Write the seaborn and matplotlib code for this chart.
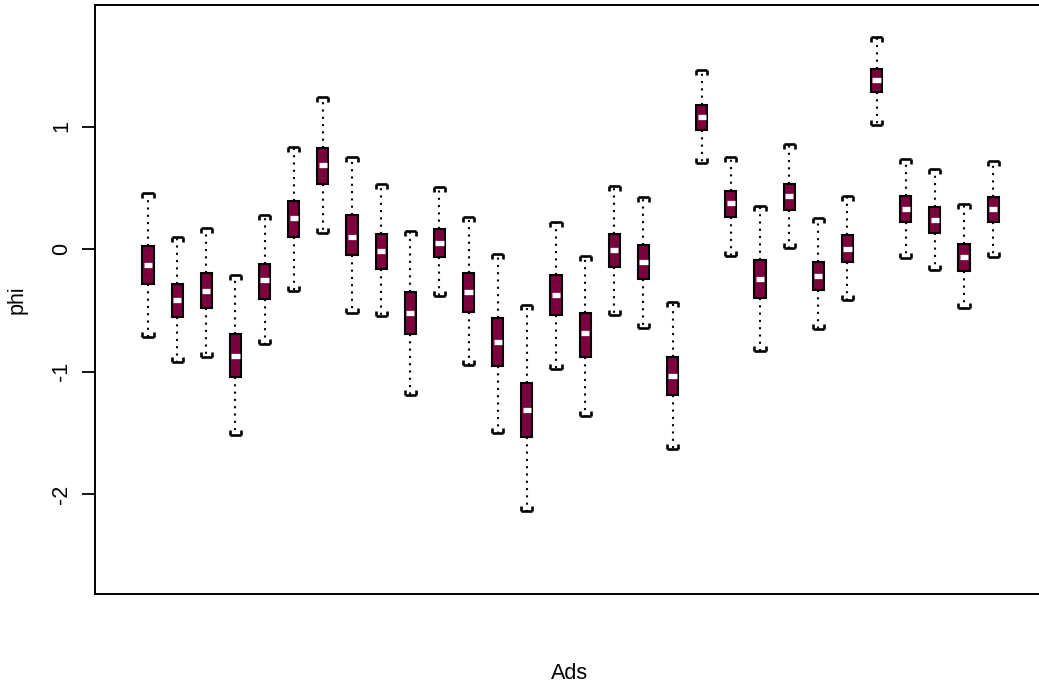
import matplotlib
matplotlib.use("Agg")
import matplotlib.pyplot as plt
import numpy as np
import pandas as pd
import seaborn as sns

# Five-number summaries of the posterior draws of phi for each ad
ads = [f"Ad{i}" for i in range(1, 31)]
lower = [-0.716, -0.920, -0.884, -1.518, -0.778, -0.340, 0.128, -0.525, -0.547, -1.190,
         -0.384, -0.947, -1.505, -2.139, -0.982, -1.363, -0.541, -0.642, -1.635, 0.699,
         -0.057, -0.830, 0.005, -0.656, -0.416, 1.012, -0.076, -0.171, -0.484, -0.068]
q1 = [-0.283, -0.558, -0.480, -1.047, -0.411, 0.095, 0.533, -0.052, -0.160, -0.697,
      -0.068, -0.514, -0.955, -1.532, -0.536, -0.884, -0.150, -0.242, -1.192, 0.971,
      0.259, -0.397, 0.316, -0.335, -0.106, 1.282, 0.220, 0.128, -0.177, 0.223]
median = [-0.130, -0.416, -0.340, -0.871, -0.253, 0.250, 0.688, 0.100, -0.016, -0.520,
          0.051, -0.351, -0.759, -1.314, -0.376, -0.688, -0.008, -0.104, -1.037, 1.075,
          0.373, -0.248, 0.433, -0.220, 0.003, 1.380, 0.327, 0.237, -0.068, 0.324]
q3 = [0.024, -0.283, -0.198, -0.697, -0.125, 0.394, 0.827, 0.275, 0.122, -0.351,
      0.166, -0.193, -0.566, -1.097, -0.215, -0.520, 0.122, 0.033, -0.884, 1.173,
      0.476, -0.090, 0.533, -0.106, 0.112, 1.467, 0.433, 0.340, 0.041, 0.427]
upper = [0.454, 0.100, 0.174, -0.212, 0.278, 0.835, 1.243, 0.754, 0.528, 0.150,
         0.509, 0.264, -0.041, -0.457, 0.218, -0.054, 0.514, 0.427, -0.430, 1.461,
         0.754, 0.354, 0.857, 0.250, 0.433, 1.733, 0.732, 0.653, 0.365, 0.721]

yticks = [-2, -1, 0, 1]

rows = []
for i, ad in enumerate(ads):
    for v in (lower[i], q1[i], median[i], q3[i], upper[i]):
        rows.append({"Ads": ad, "phi": v})
df = pd.DataFrame(rows)

sns.set_style("white")
plt.rcParams["font.family"] = ["Liberation Sans", "DejaVu Sans"]
plt.rcParams["axes.unicode_minus"] = False
plt.rcParams["text.color"] = "black"
plt.rcParams["axes.labelcolor"] = "black"
plt.rcParams["ytick.color"] = "black"

fig = plt.figure(figsize=(10.39, 6.86), dpi=100)
ax = fig.add_axes([95 / 1039, 1 - 594 / 686, (1045 - 95) / 1039, (594 - 5) / 686])

fill = "#7D003E"
box_w = 0.38
sns.boxplot(
    data=df, x="Ads", y="phi", order=ads, ax=ax,
    whis=(0, 100), width=box_w, color=fill, saturation=1, showfliers=False,
    capwidths=box_w,
    boxprops=dict(facecolor=fill, edgecolor="black", linewidth=1.5),
    medianprops=dict(color="white", linewidth=3.8, solid_capstyle="butt"),
    whiskerprops=dict(color="black", linewidth=1.5, linestyle=(0, (1, 2.5))),
    capprops=dict(color="black", linewidth=1.9, solid_capstyle="butt"),
)

# Bracket-shaped staples and inset medians
cont = ax.containers[0]
leg_down = [(0, 0), (0, -1)]
leg_up = [(0, 0), (0, 1)]
for k, cap in enumerate(cont.caps):
    cap.set_marker(leg_up if k % 2 == 0 else leg_down)
    cap.set_markersize(7.5)
    cap.set_markeredgewidth(1.9)
    cap.set_markeredgecolor("black")
    cap.set_markerfacecolor("none")
for med in cont.medians:
    xs = np.asarray(med.get_xdata(), dtype=float)
    c = xs.mean()
    h = (xs.max() - xs.min()) / 2 * 0.74
    med.set_xdata([c - h, c + h])

ax.set_xlim(-1.819, 30.78)
ax.set_ylim(-2.816, 1.992)
ax.set_xticks([])
ax.set_yticks(yticks)
ax.set_yticklabels([str(t) for t in yticks], rotation=90, va="center", fontsize=15.5)
ax.tick_params(axis="y", length=9.4, width=1.3, pad=7, color="black", left=True)

for side, sp in ax.spines.items():
    sp.set_visible(True)
    sp.set_color("black")
    sp.set_linewidth(1.4)

ax.set_xlabel("Ads", fontsize=15.5, labelpad=50)
ax.set_ylabel("phi", fontsize=15.5, labelpad=17)

fig.savefig("out.png", dpi=100)
